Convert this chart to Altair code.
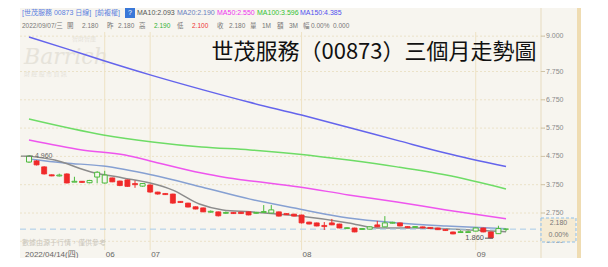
import altair as alt
import pandas as pd

# ---------------- data ----------------
idx = list(range(64))
opens = [4.55, 4.59, 4.38, 4.10, 4.06, 4.13, 3.84, 3.87, 3.82, 4.02,
         3.81, 3.99, 3.88, 3.92, 3.79, 3.70, 3.74, 3.49, 3.44, 3.42,
         3.16, 3.10, 2.97, 2.93, 2.78, 2.79, 2.74, 2.77, 2.78, 2.79,
         2.74, 2.77, 2.75, 2.79, 2.73, 2.71, 2.68, 2.43, 2.40, 2.31,
         2.40, 2.36, 2.20, 2.22, 2.17, 2.18, 2.33, 2.26, 2.39, 2.40,
         2.27, 2.24, 2.26, 2.24, 2.22, 2.17, 2.08, 2.06, 2.06, 2.11,
         2.22, 2.08, 2.02, 2.18]
closes = [4.76, 4.45, 4.13, 4.06, 4.09, 3.81, 3.87, 3.83, 3.90, 4.19,
          4.09, 3.85, 3.72, 3.69, 3.75, 3.79, 3.49, 3.42, 3.40, 3.10,
          3.12, 2.96, 2.89, 2.79, 2.81, 2.65, 2.77, 2.73, 2.73, 2.68,
          2.77, 2.80, 2.86, 2.64, 2.69, 2.64, 2.40, 2.36, 2.29, 2.27,
          2.33, 2.22, 2.23, 2.08, 2.20, 2.26, 2.26, 2.40, 2.42, 2.29,
          2.23, 2.27, 2.22, 2.20, 2.16, 2.13, 2.01, 2.09, 2.09, 2.22,
          2.08, 1.87, 2.20, 2.18]
highs = [4.79, 4.62, 4.40, 4.11, 4.14, 4.15, 4.03, 3.88, 3.92, 4.23,
         4.24, 4.00, 3.89, 3.93, 3.90, 3.81, 3.76, 3.50, 3.45, 3.43,
         3.17, 3.11, 2.98, 2.94, 2.84, 2.80, 2.80, 2.78, 2.79, 2.80,
         2.79, 3.03, 3.03, 2.80, 2.74, 2.72, 2.69, 2.44, 2.41, 2.43,
         2.54, 2.37, 2.25, 2.23, 2.22, 2.28, 2.47, 2.64, 2.44, 2.41,
         2.28, 2.29, 2.27, 2.25, 2.23, 2.18, 2.09, 2.14, 2.13, 2.24,
         2.23, 2.09, 2.30, 2.19]
lows = [4.52, 4.43, 4.11, 4.05, 4.04, 3.80, 3.84, 3.82, 3.80, 3.80,
        3.79, 3.84, 3.70, 3.68, 3.64, 3.68, 3.47, 3.40, 3.39, 3.08,
        3.11, 2.95, 2.88, 2.78, 2.76, 2.63, 2.72, 2.72, 2.72, 2.67,
        2.72, 2.76, 2.74, 2.63, 2.68, 2.63, 2.38, 2.35, 2.28, 2.15,
        2.32, 2.21, 2.19, 2.07, 2.16, 2.17, 2.25, 2.25, 2.38, 2.28,
        2.22, 2.23, 2.21, 2.19, 2.15, 2.12, 2.00, 2.05, 2.05, 2.10,
        2.07, 1.86, 2.01, 2.10]

ma10_i = [0, 3.4, 8.2, 12.4, 16, 19, 22.5, 25.6, 29.2, 35.7, 42.2, 46, 51.2, 56.4, 63]
ma10_v = [4.76, 4.62, 4.20, 3.99, 3.81, 3.56, 3.07, 2.86, 2.79, 2.64, 2.40, 2.22, 2.22, 2.18, 2.09]
ma20_i = [0, 4.7, 9.8, 16.3, 22.8, 29.2, 35.7, 42.2, 48.6, 55.1, 63]
ma20_v = [4.66, 4.52, 4.41, 4.09, 3.67, 3.24, 2.89, 2.57, 2.40, 2.29, 2.19]
ma50_i = [0, 7, 12.7, 16, 22.8, 25.6, 28.3, 35.7, 42.2, 48.6, 55.1, 63]
ma50_v = [5.33, 4.98, 4.80, 4.59, 4.16, 4.02, 3.92, 3.67, 3.39, 3.14, 2.86, 2.55]
ma100_i = [0, 9.8, 16.3, 22.8, 29.2, 35.7, 42.2, 48.6, 55.1, 63]
ma100_v = [6.07, 5.51, 5.26, 5.08, 4.98, 4.83, 4.62, 4.38, 4.09, 3.60]
ma150_i = [0, 5, 10, 16, 23, 29, 36, 42, 49, 55, 63]
ma150_v = [8.97, 8.55, 8.12, 7.63, 7.10, 6.67, 6.21, 5.79, 5.29, 4.87, 4.39]

y_ticks = [9.0, 7.75, 6.75, 5.75, 4.75, 3.75, 2.75, 1.75]
month_idx = [10, 16, 36, 59]
month_labels = ["06", "07", "08", "09"]
first_label = "2022/04/14(四)"
last_price = 2.18
last_price_text = "2.180"
last_change_text = "0.00%"
hi_text, hi_value = "4.960", 4.76
lo_text, lo_value = "1.860", 1.86

title = "世茂服務（00873）三個月走勢圖"
header1 = ["[世茂服務 00873 日線]", "[前複權]", "MA10:2.093", "MA20:2.190",
           "MA50:2.550", "MA100:3.596", "MA150:4.385"]
header2 = ["2022/09/07/三", "開", "2.180", "昨", "2.180", "高", "2.190", "低", "2.100",
           "收", "2.180", "量", "1M", "額", "3M", "幅", "0.00%", "0.000"]
note = "數據由源于行情，僅供參考"

# ---------------- styling / layout ----------------
FONT = "Liberation Sans, Noto Sans CJK TC"
CJK = "Noto Sans CJK TC"
BG = "#f7f5ef"
RED = "#f02a2a"
GREEN = "#4cba3c"

XS = alt.Scale(domain=[0, 63], range=[4, 491], nice=False, zero=False)
YS = alt.Scale(domain=[2.75, 9.0], range=[205, 28.125], nice=False, zero=False)

one = pd.DataFrame({"a": [0]})
df = pd.DataFrame({"i": idx, "o": opens, "c": closes, "h": highs, "l": lows})
up = df[df.c >= df.o]
dn = df[df.c < df.o]


def txt(text, x, y, size=7, color="#777777", align="left", font=FONT, **kw):
    return alt.Chart(one).mark_text(text=text, align=align, baseline="middle",
                                    fontSize=size, color=color, font=font, **kw
                                    ).encode(x=alt.value(x), y=alt.value(y))


def rect(x, x2, y, y2, **kw):
    return alt.Chart(one).mark_rect(**kw).encode(
        x=alt.value(x), x2=alt.value(x2), y=alt.value(y), y2=alt.value(y2))


layers = []

# watermark
layers.append(txt("智財智庫", 52, 31, size=6, color="#e6e3da", font=CJK))
layers.append(txt("Barrich", 4, 49, size=22, color="#e6e3da", font="DejaVu Serif", fontStyle="italic"))
layers.append(txt("財 經 股 市 資 訊", 4, 66, size=6, color="#e6e3da", font=CJK))

# horizontal dotted grid
gdf = pd.DataFrame({"v": y_ticks, "lab": [f"{v:.3f}" for v in y_ticks]})
layers.append(alt.Chart(gdf).mark_rule(color="#ebe2c8", strokeDash=[2, 2], strokeWidth=1).encode(
    x=alt.value(0), x2=alt.value(525), y=alt.Y("v:Q", scale=YS, axis=None)))

# month vertical grid lines
mdf = pd.DataFrame({"i": month_idx, "lab": month_labels})
layers.append(alt.Chart(mdf).mark_rule(color="#eee2c4", strokeWidth=1).encode(
    x=alt.X("i:Q", scale=XS, axis=None), y=alt.value(24), y2=alt.value(242)))

# axis separator line and right strip
layers.append(rect(520.5, 521.5, 0, 250, color="#e8dcbf"))
layers.append(rect(557, 561, 0, 250, color="#efdcb2"))

# moving averages
for xs_, vs_, col in [(ma150_i, ma150_v, "#6464ec"), (ma100_i, ma100_v, "#6edc66"),
                      (ma50_i, ma50_v, "#ee55ee"), (ma20_i, ma20_v, "#86a0d2"),
                      (ma10_i, ma10_v, "#8c8c8c")]:
    mdat = pd.DataFrame({"i": xs_, "v": vs_})
    layers.append(alt.Chart(mdat).mark_line(color=col, strokeWidth=1.5, interpolate="monotone").encode(
        x=alt.X("i:Q", scale=XS, axis=None), y=alt.Y("v:Q", scale=YS, axis=None)))

# last price dashed line
pdf = pd.DataFrame({"v": [last_price]})
layers.append(alt.Chart(pdf).mark_rule(color="#a6cbe9", strokeDash=[6, 4], strokeWidth=1).encode(
    x=alt.value(0), x2=alt.value(557), y=alt.Y("v:Q", scale=YS, axis=None)))

# candles: wicks then bodies
for d, col in [(up, GREEN), (dn, RED)]:
    layers.append(alt.Chart(d).mark_rule(color=col, strokeWidth=1).encode(
        x=alt.X("i:Q", scale=XS, axis=None), y=alt.Y("l:Q", scale=YS, axis=None), y2="h:Q"))
layers.append(alt.Chart(up).mark_bar(size=5, fill=BG, stroke=GREEN, strokeWidth=1).encode(
    x=alt.X("i:Q", scale=XS, axis=None), y=alt.Y("o:Q", scale=YS, axis=None), y2="c:Q"))
layers.append(alt.Chart(dn).mark_bar(size=5, fill=RED, stroke=RED, strokeWidth=0.8).encode(
    x=alt.X("i:Q", scale=XS, axis=None), y=alt.Y("o:Q", scale=YS, axis=None), y2="c:Q"))

# hi / lo annotations
hdf = pd.DataFrame({"v": [hi_value], "t": [hi_text]})
layers.append(alt.Chart(hdf).mark_rule(color="#666666", strokeWidth=1).encode(
    x=alt.value(1), x2=alt.value(13), y=alt.Y("v:Q", scale=YS, axis=None)))
layers.append(alt.Chart(hdf).mark_text(align="left", baseline="middle", fontSize=7,
                                       color="#666666", font=FONT).encode(
    x=alt.value(15), y=alt.Y("v:Q", scale=YS, axis=None), text="t:N"))
ldf = pd.DataFrame({"v": [lo_value], "t": [lo_text]})
layers.append(alt.Chart(ldf).mark_rule(color="#555555", strokeWidth=1).encode(
    x=alt.value(465), x2=alt.value(473), y=alt.Y("v:Q", scale=YS, axis=None)))
layers.append(alt.Chart(ldf).mark_text(align="right", baseline="middle", fontSize=7.5,
                                       color="#555555", font=FONT).encode(
    x=alt.value(464), y=alt.Y("v:Q", scale=YS, axis=None), text="t:N"))

# right axis labels and ticks
layers.append(alt.Chart(gdf).mark_rule(color="#cfc3a6", strokeWidth=1).encode(
    x=alt.value(521), x2=alt.value(525), y=alt.Y("v:Q", scale=YS, axis=None)))
layers.append(alt.Chart(gdf).mark_text(align="left", baseline="middle", fontSize=7,
                                       color="#8a8a8a", font=FONT).encode(
    x=alt.value(526), y=alt.Y("v:Q", scale=YS, axis=None), text="lab:N"))

# last price box
layers.append(rect(521, 556, 210, 234, fill="#f5ebd4", stroke="#8fbfe9", strokeDash=[3, 2], strokeWidth=1))
layers.append(txt(last_price_text, 538.5, 215, size=7, color="#777777", align="center"))
layers.append(txt(last_change_text, 538.5, 227, size=7, color="#777777", align="center"))

# header line 1
h1_x = [2, 75, 117, 157, 197, 237, 280]
h1_c = ["#5b7fe0", "#5b7fe0", "#555555", "#6a7fc0", "#ee33ee", "#33c133", "#5050ee"]
for t, x, c in zip(header1, h1_x, h1_c):
    layers.append(txt(t, x, 5, size=7, color=c))
layers.append(rect(105, 115, 0, 10, color="#3a78d8"))
layers.append(txt("?", 110, 5, size=7, color="white", align="center"))

# header line 2
h2_x = [2, 47, 62, 87, 98, 119, 134, 157, 172, 197, 209, 230, 242, 257, 269, 283, 291, 313]
h2_c = ["#777777"] * len(header2)
h2_c[6] = "#33b133"
h2_c[8] = "#ee3333"
for t, x, c in zip(header2, h2_x, h2_c):
    layers.append(txt(t, x, 18, size=6.5, color=c))

# title
layers.append(txt(title, 354, 44, size=22, color="#111111", align="center", font=CJK))

# bottom note and x labels
layers.append(txt(note, 2, 235, size=7, color="#cac6bb", font=CJK))
layers.append(txt(first_label, 5, 247, size=8, color="#666666"))
layers.append(alt.Chart(mdf).mark_text(align="left", baseline="middle", fontSize=8,
                                       color="#666666", font=FONT, dx=1).encode(
    x=alt.X("i:Q", scale=XS, axis=None), y=alt.value(247), text="lab:N"))

chart = alt.layer(*layers).properties(
    width=561, height=250,
    padding={"left": 12, "top": 0, "right": 0, "bottom": 0},
    autosize=alt.AutoSizeParams(type="none"),
    background="white",
).configure_view(fill=BG, stroke=None)

chart.save("out.html", embed_options={"renderer": "svg", "actions": False})
